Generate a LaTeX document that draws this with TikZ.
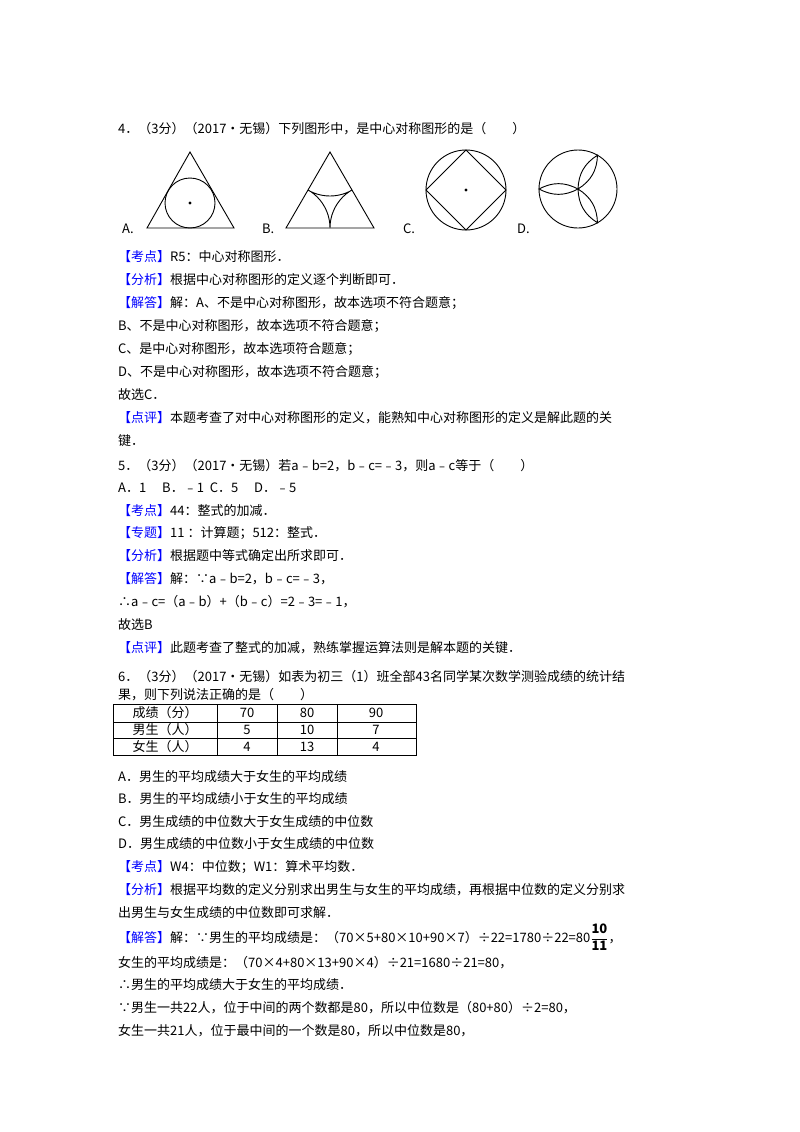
\documentclass[tikz,border=0pt]{standalone}
\usepackage{amsmath}
\usepackage{fontspec}
\setmainfont{Noto Sans CJK SC}
\usetikzlibrary{calc}
\begin{document}
\begin{tikzpicture}[x=1pt,y=-1pt,
  tl/.style={anchor=base west,inner sep=0pt,font=\fontsize{13}{15}\selectfont},
  fig/.style={line width=0.9pt},
  cell/.style={anchor=center,inner sep=0pt,font=\fontsize{13}{15}\selectfont}]
\newcommand{\kb}[1]{\textcolor[rgb]{0,0,1}{【#1】}}
\useasboundingbox (0,0) rectangle (800,1132);
\def\L{118}
\node[tl] (l1) at (\L,133) {4．（3分）（2017•无锡）下列图形中，是中心对称图形的是（　　）};
% figures
\node[tl] (la) at (122,233) {A.};
\node[tl] (lb) at (262,233) {B.};
\node[tl] (lc) at (403,233) {C.};
\node[tl] (ld) at (517,233) {D.};
% A
\draw[fig] (190,152) -- (147,228) -- (234,228) -- cycle;
\draw[fig] (190,203) circle (25);
\fill (190,203) circle (1.6);
% B
\draw[fig] (330,152) coordinate (bt) -- (286,228) coordinate (bl) -- (374,228) coordinate (br) -- cycle;
\begin{scope}
\clip (bt) -- (bl) -- (br) -- cycle;
\draw[fig] (bt) circle (44) (bl) circle (44) (br) circle (44);
\end{scope}
% C
\draw[fig] (466,190) circle (40);
\draw[fig] (466,150) -- (506,190) -- (466,230) -- (426,190) -- cycle;
\fill (466,190) circle (1.6);
% D
\draw[fig] (578,189) circle (39);
\coordinate (dc) at (578,189);
\foreach \a in {180,60,-60}{
  \draw[fig] (dc) to[bend left=28] ($(dc)+(\a:39)$) to[bend left=28] (dc);
}
\node[tl] (t1) at (\L,261) {\kb{考点}R5：中心对称图形．};
\node[tl] (t2) at (\L,284) {\kb{分析}根据中心对称图形的定义逐个判断即可．};
\node[tl] (t3) at (\L,307) {\kb{解答}解：A、不是中心对称图形，故本选项不符合题意；};
\node[tl] (t4) at (\L,330) {B、不是中心对称图形，故本选项不符合题意；};
\node[tl] (t5) at (\L,353) {C、是中心对称图形，故本选项符合题意；};
\node[tl] (t6) at (\L,376) {D、不是中心对称图形，故本选项不符合题意；};
\node[tl] (t7) at (\L,399) {故选C．};
\node[tl] (t8) at (\L,422) {\kb{点评}本题考查了对中心对称图形的定义，能熟知中心对称图形的定义是解此题的关};
\node[tl] (t9) at (\L,445) {键．};
\node[tl] (s1) at (\L,470) {5．（3分）（2017•无锡）若a﹣b=2，b﹣c=﹣3，则a﹣c等于（　　）};
\node[tl] (s2) at (\L,492) {A．1\quad\ B．﹣1\ \ C．5\quad\ D．﹣5};
\node[tl] (s3) at (\L,515) {\kb{考点}44：整式的加减．};
\node[tl] (s4) at (\L,537) {\kb{专题}11 ：计算题；512：整式．};
\node[tl] (s5) at (\L,560) {\kb{分析}根据题中等式确定出所求即可．};
\node[tl] (s6) at (\L,583) {\kb{解答}解：∵a﹣b=2，b﹣c=﹣3，};
\node[tl] (s7) at (\L,606) {∴a﹣c=（a﹣b）+（b﹣c）=2﹣3=﹣1，};
\node[tl] (s8) at (\L,629) {故选B};
\node[tl] (s9) at (\L,652) {\kb{点评}此题考查了整式的加减，熟练掌握运算法则是解本题的关键．};
\node[tl] (u1) at (\L,681) {6．（3分）（2017•无锡）如表为初三（1）班全部43名同学某次数学测验成绩的统计结};
\node[tl] (u2) at (\L,699) {果，则下列说法正确的是（　　）};
% table
\draw[line width=0.8pt] (113,704) rectangle (416,755);
\draw[line width=0.6pt] (113,722) -- (416,722) (113,738) -- (416,738)
  (217,704) -- (217,755) (277,704) -- (277,755) (337,704) -- (337,755);
\node[cell] at (165,713) {成绩（分）};
\node[cell] at (247,713) {70};
\node[cell] at (307,713) {80};
\node[cell] at (376,713) {90};
\node[cell] at (165,730) {男生（人）};
\node[cell] at (247,730) {5};
\node[cell] at (307,730) {10};
\node[cell] at (376,730) {7};
\node[cell] at (165,746.5) {女生（人）};
\node[cell] at (247,746.5) {4};
\node[cell] at (307,746.5) {13};
\node[cell] at (376,746.5) {4};
\node[tl] (u3) at (\L,781) {A．男生的平均成绩大于女生的平均成绩};
\node[tl] (u4) at (\L,803) {B．男生的平均成绩小于女生的平均成绩};
\node[tl] (u5) at (\L,826) {C．男生成绩的中位数大于女生成绩的中位数};
\node[tl] (u6) at (\L,848) {D．男生成绩的中位数小于女生成绩的中位数};
\node[tl] (u7) at (\L,871) {\kb{考点}W4：中位数；W1：算术平均数．};
\node[tl] (u8) at (\L,894) {\kb{分析}根据平均数的定义分别求出男生与女生的平均成绩，再根据中位数的定义分别求};
\node[tl] (u9) at (\L,917) {出男生与女生成绩的中位数即可求解．};
\node[tl] (v1) at (\L,942) {\kb{解答}解：∵男生的平均成绩是：（70×5+80×10+90×7）÷22=1780÷22=80$\dfrac{\text{\bfseries 10}}{\text{\bfseries 11}}$，};
\node[tl] (v2) at (\L,967) {女生的平均成绩是：（70×4+80×13+90×4）÷21=1680÷21=80，};
\node[tl] (v3) at (\L,989) {∴男生的平均成绩大于女生的平均成绩．};
\node[tl] (v4) at (\L,1012) {∵男生一共22人，位于中间的两个数都是80，所以中位数是（80+80）÷2=80，};
\node[tl] (v5) at (\L,1035) {女生一共21人，位于最中间的一个数是80，所以中位数是80，};
\end{tikzpicture}
\end{document}
